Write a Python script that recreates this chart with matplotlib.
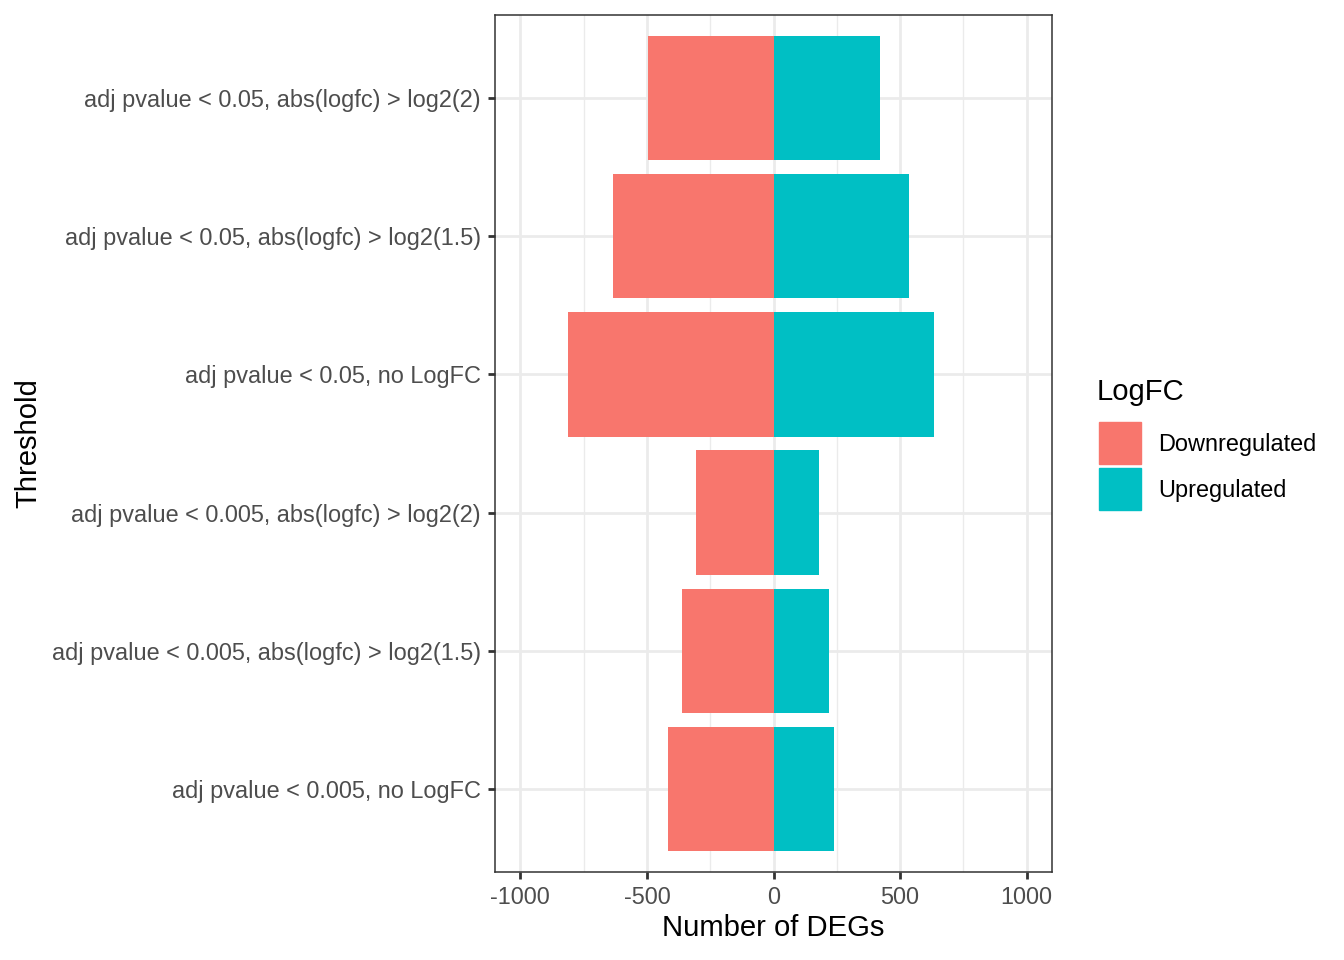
import matplotlib
matplotlib.use("Agg")
import matplotlib.pyplot as plt
from matplotlib.patches import Rectangle

plt.rcParams['font.family'] = ['Liberation Sans', 'DejaVu Sans']

# data, top row first
thresholds = [
    "adj pvalue < 0.05, abs(logfc) > log2(2)",
    "adj pvalue < 0.05, abs(logfc) > log2(1.5)",
    "adj pvalue < 0.05, no LogFC",
    "adj pvalue < 0.005, abs(logfc) > log2(2)",
    "adj pvalue < 0.005, abs(logfc) > log2(1.5)",
    "adj pvalue < 0.005, no LogFC",
]
down = [-495, -633, -813, -306, -362, -416]
up = [419, 534, 633, 179, 218, 240]
groups = ["Downregulated", "Upregulated"]
colors = ["#F8766D", "#00BFC4"]
xticks = [-1000, -500, 0, 500, 1000]
xminor = [-750, -250, 250, 750]

W, H = 1344, 960
fig = plt.figure(figsize=(W / 100, H / 100), dpi=100)
ax = fig.add_axes([495 / W, 1 - 872 / H, (1052 - 495) / W, (872 - 15) / H])

ypos = list(range(len(thresholds)))[::-1]
ax.barh(ypos, down, height=0.9, color=colors[0], zorder=3)
ax.barh(ypos, up, height=0.9, color=colors[1], zorder=3)

ax.set_xlim(-1100, 1100)
ax.set_ylim(-0.6, len(thresholds) - 0.4)
ax.set_xticks(xticks)
ax.set_xticks(xminor, minor=True)
ax.set_yticks(ypos)
ax.set_yticklabels(thresholds)
ax.set_xticklabels([str(v) for v in xticks])

ax.grid(which="major", color="#EBEBEB", lw=2.0, zorder=0)
ax.grid(which="minor", axis="x", color="#EBEBEB", lw=1.0, zorder=0)
ax.tick_params(which="major", length=5, width=2, color="#333333",
               labelsize=16.9, labelcolor="#4D4D4D", pad=5)
ax.tick_params(which="minor", length=0)
for s in ax.spines.values():
    s.set_color("#333333")
    s.set_linewidth(1.1)
    s.set_zorder(4)

fig.text(773 / W, 1 - 928 / H, "Number of DEGs", ha="center", va="center",
         fontsize=21.1, color="black")
fig.text(28 / W, 1 - 443 / H, "Threshold", ha="center", va="center",
         rotation=90, fontsize=21.1, color="black")

# legend drawn in pixel space
lax = fig.add_axes([0, 0, 1, 1], zorder=-1)
lax.set_xlim(0, W)
lax.set_ylim(H, 0)
lax.axis("off")
lax.text(1097, 392, "LogFC", ha="left", va="center", fontsize=21.1)
for i, (g, c) in enumerate(zip(groups, colors)):
    y0 = 422 + i * 46
    lax.add_patch(Rectangle((1099, y0), 42, 42, color=c))
    lax.text(1158, y0 + 22, g, ha="left", va="center", fontsize=16.9)

fig.savefig("out.png", dpi=100)
